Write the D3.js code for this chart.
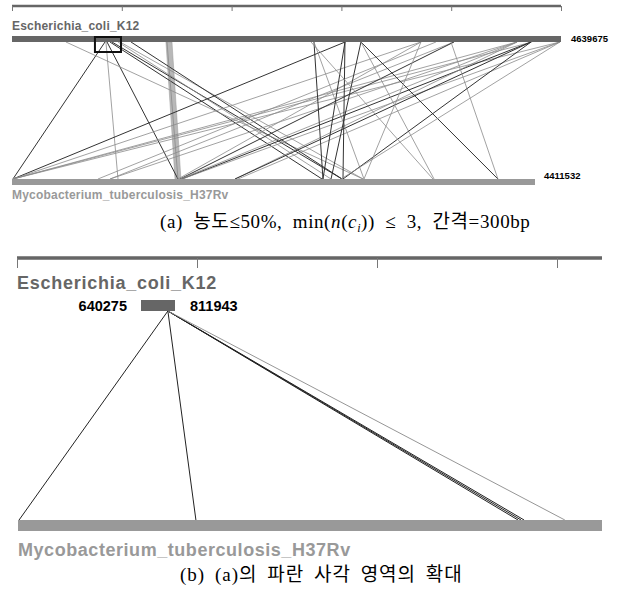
<!DOCTYPE html>
<html><head><meta charset="utf-8">
<script src="https://cdn.jsdelivr.net/npm/d3@7"></script>
<style>body{margin:0;background:#fff}</style>
</head><body>
<svg id="c" width="622" height="595"></svg>
<script>
// ---------------- data ----------------
const genomeNames = ["Escherichia_coli_K12", "Mycobacterium_tuberculosis_H37Rv"];
const genomeLengths = [4639675, 4411532];
const rulerTicksA = [0, 1, 2, 3, 4, 5];
const rulerTicksB = [0, 1, 2, 3];
// panel (a) matches: E. coli position, M. tuberculosis position, strong (1) / weak (0)
const ecoliPosA = [786000, 794000, 803000, 828000, 845000, 896000, 913000, 456000, 1006000, 1310000,
  2815000, 4395000, 4268000, 4630000, 3456000, 3583000, 3735000, 4268000, 3456000, 3735000,
  4268000, 4386000, 4630000, 4268000, 4386000, 4630000, 2552000, 2552000, 2814000, 2814000,
  2949000, 2949000, 2949000, 3710000, 4386000, 4630000, 3456000, 2527000];
const mtbPosA = [8000, 894000, 1400000, 2615000, 2784000, 2691000, 2961000, 2961000, 2784000, 1400000,
  8000, 8000, 8000, 8000, 8000, 725000, 827000, 827000, 1400000, 1417000,
  1417000, 1434000, 1434000, 1881000, 1881000, 1906000, 2623000, 2969000, 2792000, 2623000,
  2691000, 4099000, 3560000, 4099000, 2792000, 2775000, 2969000, 3551000];
const strongA = [1, 0, 1, 1, 1, 0, 0, 0, 1, 0,
  1, 0, 0, 0, 0, 0, 0, 0, 0, 1,
  0, 1, 0, 0, 1, 0, 1, 0, 1, 1,
  1, 1, 0, 0, 1, 0, 0, 0];
// wide block in (a): [ecoliStart, ecoliEnd], [mtbStart, mtbEnd]
const blockEcoli = [1301000, 1352000];
const blockMtb = [1375000, 1425000];
// highlighted region box in (a)
const boxRange = [701000, 921000];
// panel (b): zoomed region
const zoomRange = [640275, 811943];
const zoomApex = 776000;
const mtbPosB = [8000, 1344000, 3777000, 3800000, 3823000, 4131000];
const strongB = [1, 1, 1, 1, 1, 0];
const captionAParts = ["(a) 농도≤50%, min(", "n", "(", "c", "i", ")) ≤ 3, 간격=300bp"];
const captionB = "(b) (a)의 파란 사각 영역의 확대";

// ---------------- drawing ----------------
const svg = d3.select("#c");
const sans = "'Liberation Sans', Arial, sans-serif";
const serif = "'Liberation Serif', 'DejaVu Serif', 'Noto Sans CJK KR', serif";

function ruler(scale, ticks, y, thick, tickLen) {
  const [a, b] = scale.range();
  svg.append("rect").attr("x", a).attr("y", y - thick / 2).attr("width", b - a).attr("height", thick).attr("fill", "#666");
  svg.append("g").selectAll("line").data(ticks).join("line")
    .attr("x1", d => scale(d) + 0.5).attr("x2", d => scale(d) + 0.5)
    .attr("y1", y).attr("y2", y + tickLen)
    .attr("stroke", "#777").attr("stroke-width", 1);
}

// ===== panel (a) =====
const xTopA = d3.scaleLinear().domain([0, genomeLengths[0]]).range([12, 561]);
const xBotA = d3.scaleLinear().domain([0, genomeLengths[1]]).range([12, 535]);
const rulerA = d3.scaleLinear().domain([0, 5]).range([12, 561]);
ruler(rulerA, rulerTicksA, 6, 2.5, 5);

const yTopA = 42, yBotA = 179;
const linksA = ecoliPosA.map((e, i) => ({e, m: mtbPosA[i], s: strongA[i]}));
svg.append("polygon")
  .attr("points", [[xTopA(blockEcoli[0]), yTopA], [xTopA(blockEcoli[1]), yTopA],
                   [xBotA(blockMtb[1]), yBotA], [xBotA(blockMtb[0]), yBotA]].map(p => p.join(",")).join(" "))
  .attr("fill", "#b8b8b8").attr("stroke", "#999").attr("stroke-width", 0.5);
svg.append("g").selectAll("line").data(linksA).join("line")
  .attr("x1", d => xTopA(d.e)).attr("y1", yTopA)
  .attr("x2", d => xBotA(d.m)).attr("y2", yBotA)
  .attr("stroke", d => d.s ? "#333" : "#8a8a8a")
  .attr("stroke-width", d => d.s ? 1 : 0.8);

svg.append("rect").attr("x", 12).attr("y", 36).attr("width", xTopA(genomeLengths[0]) - 12).attr("height", 6).attr("fill", "#666");
svg.append("rect").attr("x", 12).attr("y", 179).attr("width", xBotA(genomeLengths[1]) - 12).attr("height", 6).attr("fill", "#999");
svg.append("rect").attr("x", xTopA(boxRange[0])).attr("y", 37)
  .attr("width", xTopA(boxRange[1]) - xTopA(boxRange[0])).attr("height", 15)
  .attr("fill", "none").attr("stroke", "#111").attr("stroke-width", 2);

svg.append("text").attr("x", 12).attr("y", 30).text(genomeNames[0])
  .attr("font-family", sans).attr("font-weight", "bold").attr("font-size", 12).attr("letter-spacing", 0.2).attr("fill", "#666");
svg.append("text").attr("x", 12).attr("y", 199).text(genomeNames[1])
  .attr("font-family", sans).attr("font-weight", "bold").attr("font-size", 12).attr("letter-spacing", 0.2).attr("fill", "#999");
svg.append("text").attr("x", 571).attr("y", 42).text(genomeLengths[0])
  .attr("font-family", sans).attr("font-weight", "bold").attr("font-size", 9.5).attr("fill", "#000");
svg.append("text").attr("x", 544).attr("y", 179).text(genomeLengths[1])
  .attr("font-family", sans).attr("font-weight", "bold").attr("font-size", 9.5).attr("fill", "#000");

// caption (a) with subscript
const capA = svg.append("text").attr("x", 160).attr("y", 228)
  .attr("font-family", serif).attr("font-size", 19).attr("letter-spacing", 0.6).attr("word-spacing", 5).attr("fill", "#000");
capA.append("tspan").text(captionAParts[0]);
capA.append("tspan").attr("font-style", "italic").text(captionAParts[1]);
capA.append("tspan").text(captionAParts[2]);
capA.append("tspan").attr("font-style", "italic").text(captionAParts[3]);
capA.append("tspan").attr("font-style", "italic").attr("font-size", 12).attr("dy", 4).text(captionAParts[4]);
capA.append("tspan").attr("dy", -4).text(captionAParts[5]);

// ===== panel (b) =====
const xBotB = d3.scaleLinear().domain([0, genomeLengths[1]]).range([18, 602]);
const xZoomB = d3.scaleLinear().domain(zoomRange).range([141, 175]);
const rulerB = d3.scaleLinear().domain([0, 3.25]).range([17, 602]);
ruler(rulerB, rulerTicksB, 258, 3.5, 10);

const yTopB = 311, yBotB = 520;
const linksB = mtbPosB.map((m, i) => ({m, s: strongB[i]}));
svg.append("g").selectAll("line").data(linksB).join("line")
  .attr("x1", xZoomB(zoomApex)).attr("y1", yTopB)
  .attr("x2", d => xBotB(d.m)).attr("y2", yBotB)
  .attr("stroke", d => d.s ? "#222" : "#8a8a8a")
  .attr("stroke-width", d => d.s ? 1 : 0.9);

svg.append("rect").attr("x", xZoomB(zoomRange[0])).attr("y", 300)
  .attr("width", xZoomB(zoomRange[1]) - xZoomB(zoomRange[0])).attr("height", 11).attr("fill", "#666");
svg.append("rect").attr("x", 18).attr("y", 520).attr("width", xBotB(genomeLengths[1]) - 18).attr("height", 11).attr("fill", "#999");

svg.append("text").attr("x", 17).attr("y", 289).text(genomeNames[0])
  .attr("font-family", sans).attr("font-weight", "bold").attr("font-size", 18).attr("letter-spacing", 0.75).attr("fill", "#666");
svg.append("text").attr("x", 18).attr("y", 556).text(genomeNames[1])
  .attr("font-family", sans).attr("font-weight", "bold").attr("font-size", 18).attr("letter-spacing", 0.55).attr("fill", "#999");
svg.append("text").attr("x", 127).attr("y", 311).attr("text-anchor", "end").text(zoomRange[0])
  .attr("font-family", sans).attr("font-weight", "bold").attr("font-size", 14.5).attr("fill", "#000");
svg.append("text").attr("x", 190).attr("y", 311).text(zoomRange[1])
  .attr("font-family", sans).attr("font-weight", "bold").attr("font-size", 14.5).attr("fill", "#000");

svg.append("text").attr("x", 180).attr("y", 581).text(captionB)
  .attr("font-family", serif).attr("font-size", 19).attr("letter-spacing", 1).attr("word-spacing", 4).attr("fill", "#000");
</script>
</body></html>
